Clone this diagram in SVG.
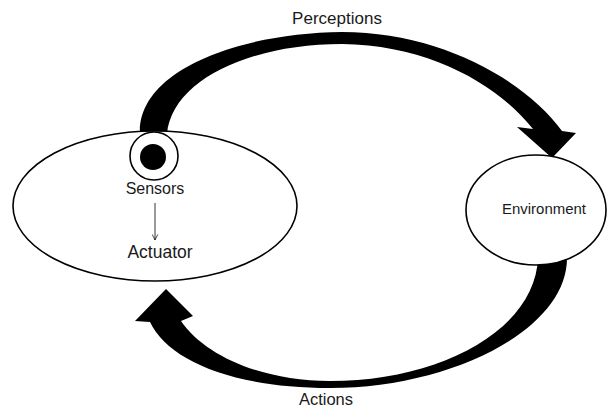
<svg xmlns="http://www.w3.org/2000/svg" width="613" height="410" viewBox="0 0 613 410">
<style>
.node{fill:#fff;stroke:#000;stroke-width:1.6}
.lbl{font-family:"Liberation Sans",Arial,sans-serif;fill:#1a1a1a}
.big{fill:#000;stroke:none}
</style>
<defs>
<marker id="v" viewBox="0 0 10 10" refX="9" refY="5" markerWidth="7" markerHeight="7" orient="auto" markerUnits="userSpaceOnUse">
<path d="M1,1 L9,5 L1,9" fill="none" stroke="#000" stroke-width="1"/>
</marker>
</defs>
<rect width="613" height="410" fill="#fff"/>
<g id="connectors">
<path class="big" d="M140,134 C137,70 240,33 342,32 C440,32 525,80 562,131 L576,133 L552,158 L517,127 L533,129 C498,85 430,45 342,44 C250,44 172,80 167,134 Z"/>
<path class="big" d="M567,257 C568,330 450,388 330,388 C232,388 168,360 150,322 L135,321 L166,289 L193,316 L181,321 C205,356 262,381 330,381 C440,381 536,330 538,257 Z"/>
</g>
<g id="agent">
<ellipse class="node" cx="155" cy="206" rx="142" ry="75"/>
<text class="lbl" x="155" y="194" font-size="16" text-anchor="middle">Sensors</text>
<line x1="155" y1="203" x2="155" y2="240" stroke="#000" stroke-width="0.8" marker-end="url(#v)"/>
<text class="lbl" x="160" y="258" font-size="17.5" text-anchor="middle">Actuator</text>
</g>
<g id="sensor">
<circle cx="154" cy="156" r="24" fill="#fff" stroke="#000" stroke-width="1.6"/>
<circle cx="153" cy="157" r="13" fill="#000"/>
</g>
<g id="environment">
<ellipse class="node" cx="536" cy="210" rx="70" ry="55"/>
<text class="lbl" x="544" y="214" font-size="14" text-anchor="middle" textLength="84" lengthAdjust="spacingAndGlyphs">Environment</text>
</g>
<g id="labels">
<text class="lbl" x="337" y="24" font-size="17" text-anchor="middle">Perceptions</text>
<text class="lbl" x="326" y="405" font-size="16.5" text-anchor="middle">Actions</text>
</g>
</svg>
